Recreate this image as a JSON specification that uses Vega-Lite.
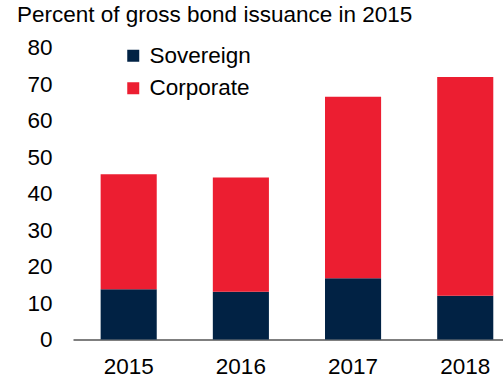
{
  "$schema": "https://vega.github.io/schema/vega-lite/v6.json",
  "autosize": "none",
  "width": 430,
  "height": 292,
  "padding": {"left": 73, "top": 47.5, "right": 0, "bottom": 39.5},
  "background": "white",
  "config": {
    "view": {"stroke": null},
    "font": "Liberation Sans"
  },
  "title": {
    "text": "Percent of gross bond issuance in 2015",
    "anchor": "start",
    "frame": "group",
    "dx": -56,
    "fontSize": 22.5,
    "fontWeight": "normal",
    "color": "#000000",
    "font": "Liberation Sans",
    "offset": 10
  },
  "data": {
    "values": [
      {"year": "2015", "series": "Sovereign", "value": 13.8},
      {"year": "2015", "series": "Corporate", "value": 31.5},
      {"year": "2016", "series": "Sovereign", "value": 13.1},
      {"year": "2016", "series": "Corporate", "value": 31.3},
      {"year": "2017", "series": "Sovereign", "value": 16.8},
      {"year": "2017", "series": "Corporate", "value": 49.7},
      {"year": "2018", "series": "Sovereign", "value": 12.0},
      {"year": "2018", "series": "Corporate", "value": 59.9}
    ]
  },
  "mark": {"type": "bar"},
  "encoding": {
    "x": {
      "field": "year",
      "type": "ordinal",
      "scale": {"paddingInner": 0.5, "paddingOuter": 0.1665, "align": 0.74},
      "axis": {
        "title": null,
        "labelAngle": 0,
        "ticks": false,
        "domain": true,
        "domainColor": "#000000",
        "domainWidth": 1.2,
        "labelFontSize": 22.5,
        "labelColor": "#000000",
        "labelPadding": 16,
        "labelFont": "Liberation Sans"
      }
    },
    "y": {
      "field": "value",
      "type": "quantitative",
      "stack": "zero",
      "scale": {"domain": [0, 80], "nice": false},
      "axis": {
        "title": null,
        "values": [0, 10, 20, 30, 40, 50, 60, 70, 80],
        "grid": false,
        "domain": false,
        "ticks": false,
        "labelFontSize": 22.5,
        "labelColor": "#000000",
        "labelPadding": 21,
        "labelFont": "Liberation Sans"
      }
    },
    "color": {
      "field": "series",
      "type": "nominal",
      "scale": {"domain": ["Sovereign", "Corporate"], "range": ["#012244", "#EC1E31"]},
      "legend": {
        "title": null,
        "orient": "none",
        "legendX": 49,
        "legendY": -3,
        "symbolType": "square",
        "symbolSize": 144,
        "symbolStrokeWidth": 0,
        "labelFontSize": 22.5,
        "labelColor": "#000000",
        "labelOffset": 5,
        "rowPadding": 9.5,
        "labelFont": "Liberation Sans"
      }
    },
    "order": {"field": "series", "sort": "descending"}
  }
}
